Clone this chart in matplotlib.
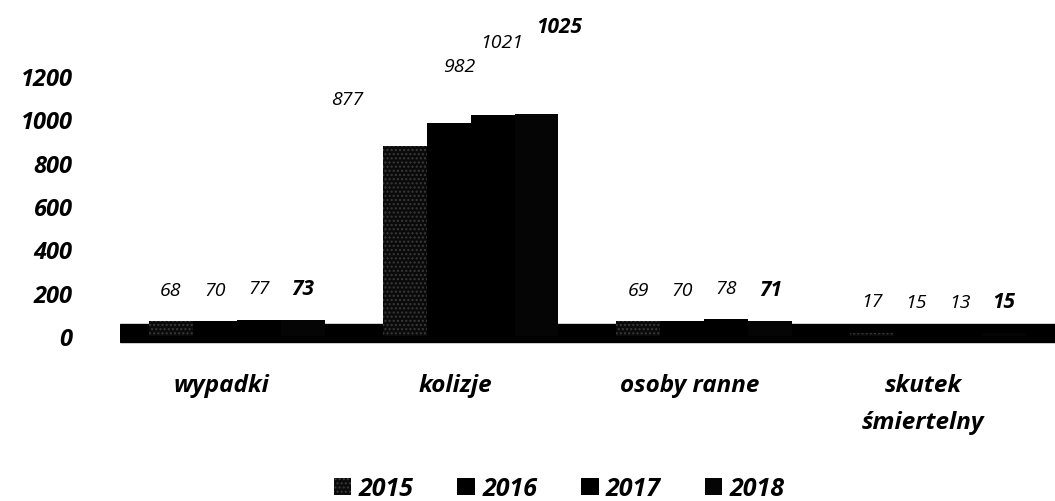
import matplotlib
matplotlib.use("Agg")
from matplotlib import pyplot as plt
from matplotlib.transforms import ScaledTranslation
import numpy as np

plt.rcParams["font.family"] = ["Open Sans", "DejaVu Sans"]

categories = ["wypadki", "kolizje", "osoby ranne", "skutek\nśmiertelny"]
years = ["2015", "2016", "2017", "2018"]
values = {
    "2015": [68, 877, 69, 17],
    "2016": [70, 982, 70, 15],
    "2017": [77, 1021, 78, 13],
    "2018": [73, 1025, 71, 15],
}
yticks = [0, 200, 400, 600, 800, 1000, 1200]

# label placement (kolizje labels climb like in the 3d original)
lift = 145
kolizje_lift = [72, 118, 190, 260]
kolizje_dx = [-57, 11, 9, 23]

fig = plt.figure(figsize=(10.55, 5.02), dpi=100)
ax = fig.add_axes([0.1137, 0.311, 0.8863, 0.689])

x = np.arange(len(categories))
width = 0.188
faces = ["#0a0a0a", "#000000", "#000000", "#050505"]

# floor of the 3d chart
ax.axhspan(-25, 55, color="black", zorder=1)

for i, yr in enumerate(years):
    pos = x + (i - 1.5) * width
    ax.bar(pos, values[yr], width=width, color=faces[i], zorder=2,
           label=yr, hatch="...." if i == 0 else None,
           edgecolor="#3a3a3a" if i == 0 else faces[i], linewidth=0)
    last = i == len(years) - 1
    for j, (px, v) in enumerate(zip(pos, values[yr])):
        ytxt = v + lift
        dx = 0
        if j == 1:
            ytxt = v + lift + kolizje_lift[i]
            dx = kolizje_dx[i]
        ax.annotate(str(v), (px, ytxt), xytext=(dx * 0.72, 0),
                    textcoords="offset points", ha="center", va="center",
                    fontsize=15 if last else 14, style="italic",
                    fontweight="bold" if last else "normal", color="black")

ax.set_xlim(-0.5, 3.5)
ax.set_ylim(-40, 1555)
ax.set_yticks(yticks)
ax.set_xticks(x)
ax.set_xticklabels(categories, fontsize=17.5, fontweight="bold", style="italic",
                   linespacing=1.75)
for lab in ax.get_yticklabels():
    lab.set_fontsize(17)
    lab.set_fontweight("bold")
    lab.set_style("italic")
ax.tick_params(axis="y", length=0, pad=34)
ax.tick_params(axis="x", length=0, pad=20)
shift = ScaledTranslation(-15 / 100, 0, fig.dpi_scale_trans)
for lab in ax.get_xticklabels():
    lab.set_transform(lab.get_transform() + shift)
for s in ax.spines.values():
    s.set_visible(False)

leg = fig.legend(loc="lower center", bbox_to_anchor=(0.53, -0.045), ncol=4,
                 frameon=False, handlelength=0.7, handleheight=0.7,
                 handletextpad=0.3, columnspacing=1.75,
                 prop={"size": 18, "weight": "bold", "style": "italic"})

fig.savefig("out.png", dpi=100)
